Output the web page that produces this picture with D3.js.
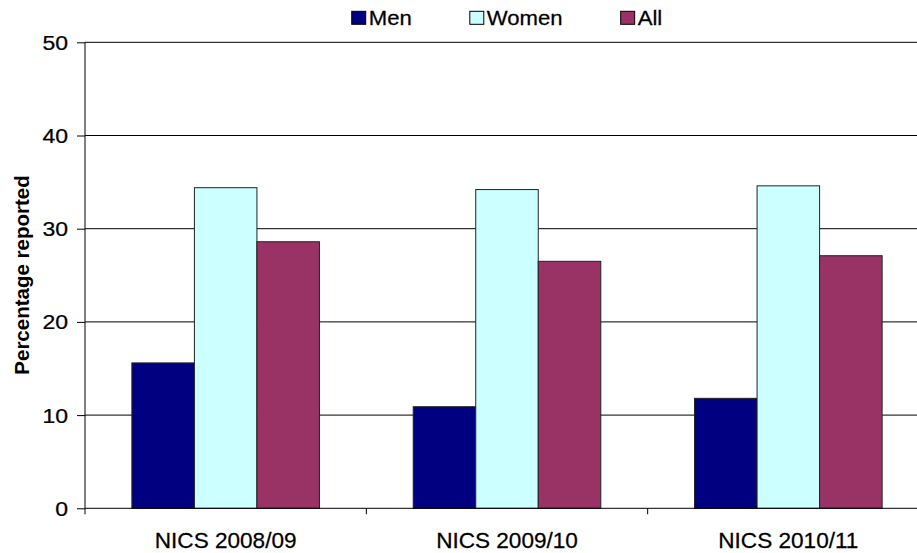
<!DOCTYPE html>
<html>
<head>
<meta charset="utf-8">
<script src="https://cdn.jsdelivr.net/npm/d3@7"></script>
<style>
  html, body { margin: 0; padding: 0; background: #fff; overflow: hidden; }
  svg { display: block; }
  text { font-family: "Liberation Sans", Arial, sans-serif; fill: #000; }
</style>
</head>
<body>
<svg id="chart" width="917" height="553"></svg>
<script>
// Survey waves along the x axis
const categories = ["NICS 2008/09", "NICS 2009/10", "NICS 2010/11"];
// Series names shown in the legend
const seriesNames = ["Men", "Women", "All"];
// Percentage reported per wave, one array per series
const menValues = [15.6, 10.9, 11.8];
const womenValues = [34.4, 34.2, 34.6];
const allValues = [28.6, 26.5, 27.1];
// Y axis ticks
const yTicks = [0, 10, 20, 30, 40, 50];
const yLabel = "Percentage reported";

const seriesValues = [menValues, womenValues, allValues];
const seriesColors = ["#000080", "#CCFFFF", "#993366"];

const svg = d3.select("#chart");
const plot = { left: 85, right: 929, top: 42.3, bottom: 508.3 };

const x0 = d3.scaleBand().domain(categories).range([plot.left, plot.right]).padding(0);
const x1 = d3.scaleBand().domain(seriesNames).range([0, x0.bandwidth()])
  .paddingInner(0).paddingOuter(0.75);
const y = d3.scaleLinear().domain([0, 50]).range([plot.bottom, plot.top]);

// Horizontal gridlines
svg.append("g")
  .selectAll("line")
  .data(yTicks.filter(t => t > 0))
  .join("line")
  .attr("x1", plot.left).attr("x2", plot.right)
  .attr("y1", d => y(d)).attr("y2", d => y(d))
  .attr("stroke", "#000").attr("stroke-width", 1);

// Bars
const rows = categories.map((c, i) => ({
  cat: c,
  vals: seriesNames.map((s, j) => ({ s, v: seriesValues[j][i], color: seriesColors[j] }))
}));
svg.append("g")
  .selectAll("g")
  .data(rows)
  .join("g")
  .attr("transform", d => `translate(${x0(d.cat)},0)`)
  .selectAll("rect")
  .data(d => d.vals)
  .join("rect")
  .attr("x", d => x1(d.s))
  .attr("width", x1.bandwidth())
  .attr("y", d => y(d.v))
  .attr("height", d => y(0) - y(d.v))
  .attr("fill", d => d.color)
  .attr("stroke", "#222")
  .attr("stroke-width", 1);

// Y axis
const tickStretch = 1.18;
const yAxis = svg.append("g")
  .attr("transform", `translate(${plot.left},0)`)
  .call(d3.axisLeft(y).tickValues(yTicks).tickSize(8).tickPadding(10).tickFormat(d3.format("d")));
yAxis.select(".domain").remove();
yAxis.append("line")
  .attr("x1", 0).attr("x2", 0)
  .attr("y1", plot.top).attr("y2", plot.bottom + 6)
  .attr("stroke", "#000");
yAxis.selectAll(".tick line").attr("stroke", "#000");
yAxis.selectAll(".tick text")
  .attr("font-size", 19.5)
  .attr("font-family", "Liberation Sans, Arial, sans-serif")
  .attr("stroke", "#000").attr("stroke-width", 0.25)
  .attr("x", -17 / tickStretch)
  .attr("dy", "0.36em")
  .attr("transform", `scale(${tickStretch},1)`);

// X axis
const xAxis = svg.append("g")
  .attr("transform", `translate(0,${plot.bottom})`);
xAxis.append("line")
  .attr("x1", plot.left).attr("x2", plot.right)
  .attr("y1", 0).attr("y2", 0)
  .attr("stroke", "#000");
xAxis.selectAll("line.tick")
  .data(categories.slice(1))
  .join("line")
  .attr("class", "tick")
  .attr("x1", d => x0(d)).attr("x2", d => x0(d))
  .attr("y1", 0).attr("y2", 6)
  .attr("stroke", "#000");
xAxis.selectAll("text")
  .data(categories)
  .join("text")
  .attr("text-anchor", "middle")
  .attr("font-size", 21.5)
  .attr("stroke", "#000").attr("stroke-width", 0.25)
  .attr("transform", d => `translate(${x0(d) + x0.bandwidth() / 2},${39.5}) scale(1.05,1)`)
  .text(d => d);

// Y axis title
svg.append("text")
  .attr("text-anchor", "middle")
  .attr("font-size", 20.5)
  .attr("font-weight", "bold")
  .attr("transform", `translate(28.5,${275}) rotate(-90)`)
  .text(yLabel);

// Legend, centred over the plot
const legend = svg.append("g");
const box = 14, boxGap = 3, itemGap = 58, legFont = 20.5, legStretch = 1.08;
const items = legend.selectAll("g")
  .data(seriesNames)
  .join("g");
items.append("rect")
  .attr("width", box).attr("height", box - 1)
  .attr("y", 11.3)
  .attr("fill", (d, i) => seriesColors[i])
  .attr("stroke", "#000").attr("stroke-width", 1);
items.append("text")
  .attr("font-size", legFont)
  .attr("stroke", "#000").attr("stroke-width", 0.25)
  .attr("transform", `translate(${box + boxGap},24.9) scale(${legStretch},1)`)
  .text(d => d);
let widths = [];
items.each(function () {
  const t = d3.select(this).select("text").node();
  widths.push(box + boxGap + t.getComputedTextLength() * legStretch);
});
const total = d3.sum(widths) + itemGap * (widths.length - 1);
let cx = (plot.left + plot.right) / 2 - total / 2;
items.attr("transform", (d, i) => {
  const tx = cx;
  cx += widths[i] + itemGap;
  return `translate(${tx},0)`;
});
</script>
</body>
</html>
